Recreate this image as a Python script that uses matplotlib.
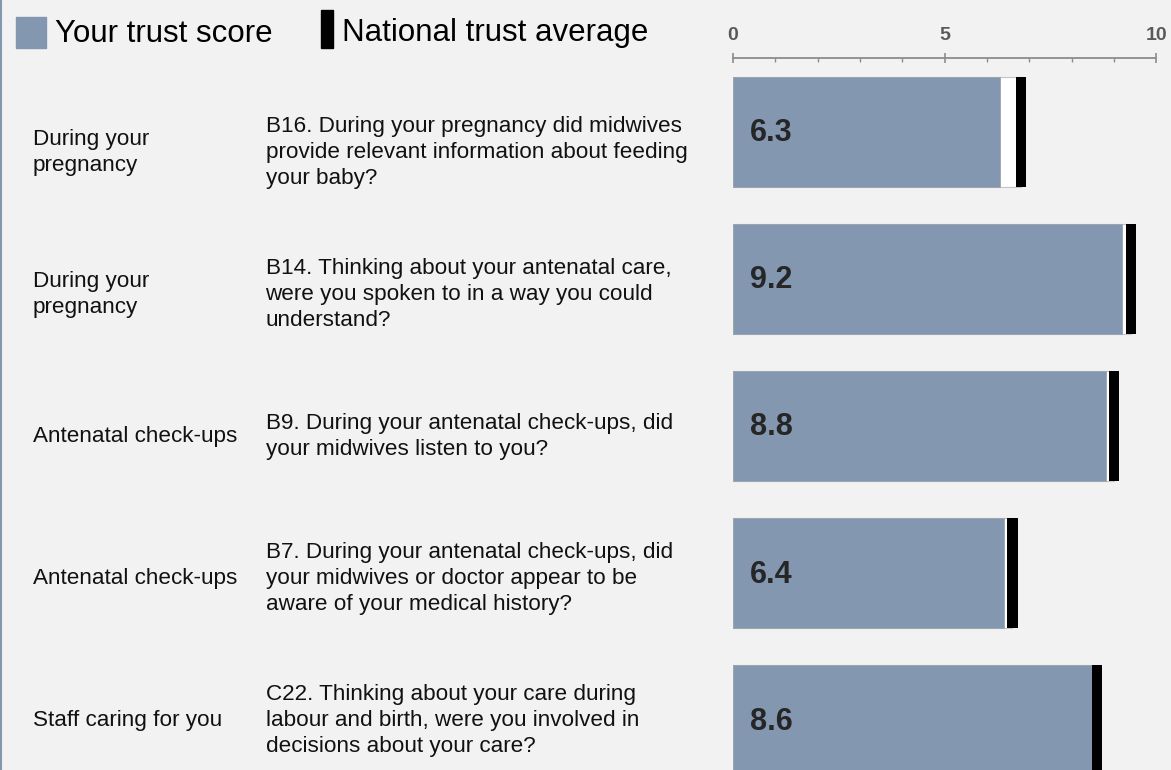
import matplotlib
matplotlib.use("Agg")
import matplotlib.pyplot as plt
from matplotlib.patches import Rectangle
from matplotlib.lines import Line2D
from matplotlib.transforms import blended_transform_factory

themes = [
    "During your\npregnancy",
    "During your\npregnancy",
    "Antenatal check-ups",
    "Antenatal check-ups",
    "Staff caring for you",
]
questions = [
    "B16. During your pregnancy did midwives\nprovide relevant information about feeding\nyour baby?",
    "B14. Thinking about your antenatal care,\nwere you spoken to in a way you could\nunderstand?",
    "B9. During your antenatal check-ups, did\nyour midwives listen to you?",
    "B7. During your antenatal check-ups, did\nyour midwives or doctor appear to be\naware of your medical history?",
    "C22. Thinking about your care during\nlabour and birth, were you involved in\ndecisions about your care?",
]
trust_scores = [6.3, 9.2, 8.8, 6.4, 8.6]
national_avg = [6.8, 9.4, 9.0, 6.6, 8.6]
major_ticks = [0, 5, 10]
minor_ticks = list(range(0, 11))

W, H = 1171, 770
BG = "#f2f2f2"
BLUE = "#8497b0"
GREY = "#8c8c8c"

plt.rcParams["font.family"] = ["Liberation Sans", "DejaVu Sans"]

fig = plt.figure(figsize=(W / 100, H / 100), dpi=100, facecolor=BG)
ax = fig.add_axes([733 / W, 0, 423.3 / W, (H - 58.3) / H])
ax.set_facecolor(BG)

rows = list(range(len(trust_scores)))
bar_h = 0.748
marker_w = 0.25

# national average backdrop, trust score, then the black average marker
ax.barh(rows, national_avg, height=bar_h, color="white", edgecolor="#c4c4c4", linewidth=0.8)
ax.barh(rows, trust_scores, height=bar_h, color=BLUE, edgecolor="#9aa3ae", linewidth=0.6)
ax.barh(rows, [marker_w] * len(rows), left=[n - marker_w / 2 for n in national_avg],
        height=bar_h, color="black")

for i, v in enumerate(trust_scores):
    ax.text(0.4, i + 0.01, f"{v:.1f}", va="center", ha="left", fontsize=22,
            fontweight="bold", color="#262626")

ax.set_xlim(0, 10)
ax.set_ylim(4.339, -0.5)
for side in ["left", "right", "bottom"]:
    ax.spines[side].set_visible(False)
ax.spines["top"].set_color(GREY)
ax.spines["top"].set_linewidth(1.3)

ax.xaxis.tick_top()
ax.set_xticks(major_ticks)
ax.set_xticks(minor_ticks, minor=True)
ax.set_xticklabels([str(t) for t in major_ticks], fontweight="bold")
ax.tick_params(axis="x", which="major", direction="inout", length=7.6, width=1.2,
               color=GREY, pad=6.5, labelsize=14, labelcolor="#595959",
               top=True, bottom=False, labeltop=True, labelbottom=False)
ax.tick_params(axis="x", which="minor", direction="in", length=3, width=1.0,
               color=GREY, top=True, bottom=False)
ax.set_yticks([])

# the text table on the left is spaced a little tighter than the bars
trans = blended_transform_factory(fig.transFigure, ax.transData)
for i in rows:
    ty = 0.14 + 0.966 * i
    ax.text(33 / W, ty, themes[i], transform=trans, va="center", ha="left",
            fontsize=16.2, color="#111111", linespacing=1.3, clip_on=False)
    ax.text(265.5 / W, ty, questions[i], transform=trans, va="center", ha="left",
            fontsize=16.2, color="#111111", linespacing=1.3, clip_on=False)

# legend
fig.add_artist(Rectangle((15.6 / W, 1 - 47.7 / H), 30.4 / W, 31 / H,
                         transform=fig.transFigure, color=BLUE))
fig.add_artist(Rectangle((321 / W, 1 - 47.7 / H), 11.6 / W, 37.7 / H,
                         transform=fig.transFigure, color="black"))
fig.text(55 / W, 1 - 42.5 / H, "Your trust score", fontsize=22.5, va="baseline", color="black")
fig.text(341.5 / W, 1 - 40.5 / H, "National trust average", fontsize=22.5, va="baseline",
         color="black")

# left border
fig.add_artist(Line2D([0.8 / W, 0.8 / W], [0, 1], color=BLUE, linewidth=1.5,
                      transform=fig.transFigure))

fig.savefig("out.png", dpi=100, facecolor=BG)
